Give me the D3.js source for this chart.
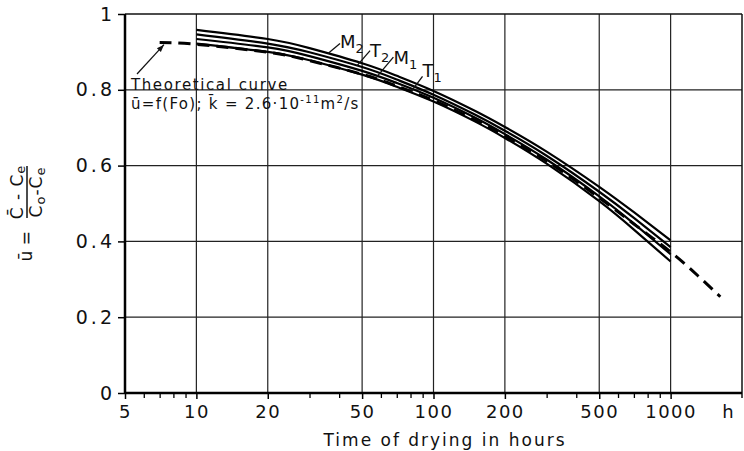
<!DOCTYPE html>
<html>
<head>
<meta charset="utf-8">
<script src="https://cdn.jsdelivr.net/npm/d3@7"></script>
<style>
body { margin: 0; background: #fff; }
svg { display: block; font-family: "DejaVu Sans", sans-serif; }
</style>
</head>
<body>
<div id="chart"></div>
<script>
// measured curves (hours -> mean relative moisture u)
var times = [10, 20, 30, 50, 70, 100, 150, 200, 300, 500, 700, 1000];
var uM2 = [0.958, 0.934, 0.910, 0.870, 0.837, 0.797, 0.744, 0.702, 0.637, 0.544, 0.477, 0.403];
var uT2 = [0.946, 0.922, 0.899, 0.860, 0.827, 0.787, 0.734, 0.692, 0.626, 0.531, 0.462, 0.385];
var uM1 = [0.934, 0.912, 0.889, 0.850, 0.818, 0.779, 0.726, 0.683, 0.616, 0.519, 0.447, 0.366];
var uT1 = [0.922, 0.900, 0.878, 0.840, 0.808, 0.769, 0.716, 0.673, 0.605, 0.506, 0.431, 0.347];

// theoretical curve u = f(Fo)
var theoryTimes = [7, 10, 20, 30, 50, 70, 100, 150, 200, 300, 500, 700, 1000, 1300, 1620];
var uTheory = [0.925, 0.920, 0.899, 0.877, 0.841, 0.810, 0.772, 0.720, 0.678, 0.612, 0.515, 0.446, 0.372, 0.310, 0.254];

var xTicks = [5, 10, 20, 50, 100, 200, 500, 1000];
var xMinorTicks = [6, 7, 8, 9, 30, 40, 60, 70, 80, 90, 300, 400, 600, 700, 800, 900];
var yTicks = [0, 0.2, 0.4, 0.6, 0.8, 1];

var series = [
    { name: "M", sub: "2", values: uM2, at: 35.9 },
    { name: "T", sub: "2", values: uT2, at: 47.6 },
    { name: "M", sub: "1", values: uM1, at: 58 },
    { name: "T", sub: "1", values: uT1, at: 80 }
];

var width = 744, height = 451;

var svg = d3.select("#chart")
    .append("svg")
    .attr("width", width)
    .attr("height", height);

var x = d3.scaleLog().domain([5, 2000]).range([125, 742]);
var y = d3.scaleLinear().domain([0, 1]).range([393, 14]);

// grid
svg.append("g")
    .selectAll("line")
    .data(xTicks.filter(d => d > 5))
    .enter()
    .append("line")
    .attr("x1", d => x(d)).attr("x2", d => x(d))
    .attr("y1", y(0)).attr("y2", y(1))
    .attr("stroke", "#222").attr("stroke-width", 1.2);

svg.append("g")
    .selectAll("line")
    .data(yTicks.filter(d => d > 0 && d < 1))
    .enter()
    .append("line")
    .attr("x1", x(5)).attr("x2", x(2000))
    .attr("y1", d => y(d)).attr("y2", d => y(d))
    .attr("stroke", "#222").attr("stroke-width", 1.2);

// frame
svg.append("line").attr("x1", x(5)).attr("x2", x(2000)).attr("y1", y(1)).attr("y2", y(1))
    .attr("stroke", "#111").attr("stroke-width", 1.5);
svg.append("line").attr("x1", x(2000)).attr("x2", x(2000)).attr("y1", y(1)).attr("y2", y(0) + 5)
    .attr("stroke", "#111").attr("stroke-width", 1.5);

// axes
var leftAxis = d3.axisLeft(y)
    .tickValues(yTicks)
    .tickSize(7)
    .tickPadding(3)
    .tickFormat(d => (d === 0 || d === 1) ? String(d) : d.toFixed(1));

var yAxisG = svg.append("g")
    .attr("transform", `translate(${x(5)}, 0)`)
    .call(leftAxis);
yAxisG.select(".domain").attr("stroke-width", 2.5).attr("d", `M0,${y(1)}V${y(0)}`);
yAxisG.selectAll(".tick line").attr("stroke-width", 1.5);
yAxisG.selectAll("text")
    .attr("font-size", 19)
    .attr("font-family", "DejaVu Sans")
    .attr("letter-spacing", 3)
    .attr("fill", "#111");

var bottomAxis = d3.axisBottom(x)
    .tickValues(xTicks)
    .tickSize(6)
    .tickPadding(6)
    .tickFormat(d3.format("d"));

var xAxisG = svg.append("g")
    .attr("transform", `translate(0, ${y(0)})`)
    .call(bottomAxis);
xAxisG.select(".domain").attr("stroke-width", 2.5).attr("d", `M${x(5)},0H${x(2000)}`);
xAxisG.selectAll(".tick line").attr("stroke-width", 1.5);
xAxisG.selectAll("text")
    .attr("font-size", 18)
    .attr("font-family", "DejaVu Sans")
    .attr("letter-spacing", 1.5)
    .attr("fill", "#111");

var minorAxis = d3.axisBottom(x)
    .tickValues(xMinorTicks)
    .tickSize(5)
    .tickFormat("");
var minorG = svg.append("g")
    .attr("transform", `translate(0, ${y(0)})`)
    .call(minorAxis);
minorG.select(".domain").remove();
minorG.selectAll(".tick line").attr("stroke-width", 1.3);

svg.append("text")
    .attr("x", 728).attr("y", 418)
    .attr("font-size", 18)
    .attr("text-anchor", "middle")
    .attr("fill", "#111")
    .text("h");

svg.append("text")
    .attr("x", 445).attr("y", 446)
    .attr("font-size", 17)
    .attr("letter-spacing", 2)
    .attr("text-anchor", "middle")
    .attr("fill", "#111")
    .text("Time of drying in hours");

// y title: u = (C - Ce)/(Co - Ce)
var yt = svg.append("g")
    .attr("transform", "translate(27, 212) rotate(-90)")
    .attr("font-size", 17)
    .attr("fill", "#111");
yt.append("line").attr("x1", -6).attr("x2", 46).attr("y1", 0).attr("y2", 0)
    .attr("stroke", "#111").attr("stroke-width", 1.5);
var num = yt.append("text").attr("x", 20).attr("y", -4).attr("text-anchor", "middle").attr("letter-spacing", 1);
num.append("tspan").text("C\u0304 - C");
num.append("tspan").attr("font-size", 13).attr("dy", 2).text("e");
var den = yt.append("text").attr("x", 20).attr("y", 15).attr("text-anchor", "middle").attr("letter-spacing", 1);
den.append("tspan").text("C");
den.append("tspan").attr("font-size", 13).attr("dy", 3).text("o");
den.append("tspan").attr("dy", -3).text("-C");
den.append("tspan").attr("font-size", 13).attr("dy", 3).text("e");
yt.append("text").attr("x", -19).attr("y", 5).attr("text-anchor", "end")
    .text("\u016B =");

// curves
var line = d3.line()
    .x(d => x(d[0]))
    .y(d => y(d[1]))
    .curve(d3.curveNatural);

var curvesGroup = svg.append("g");
series.forEach(function(s) {
    curvesGroup.append("path")
        .datum(times.map((t, i) => [t, s.values[i]]))
        .attr("d", line)
        .attr("fill", "none")
        .attr("stroke", "#000")
        .attr("stroke-width", 2.2);
});

svg.append("path")
    .datum(theoryTimes.map((t, i) => [t, uTheory[i]]))
    .attr("d", line)
    .attr("fill", "none")
    .attr("stroke", "#000")
    .attr("stroke-width", 3)
    .attr("stroke-dasharray", "12,7");

// curve labels with leaders
function uAt(ts, us, t) {
    for (var i = 0; i < ts.length - 1; i++) {
        if (t >= ts[i] && t <= ts[i + 1]) {
            var f = Math.log(t / ts[i]) / Math.log(ts[i + 1] / ts[i]);
            return us[i] + f * (us[i + 1] - us[i]);
        }
    }
    return us[us.length - 1];
}

// [leader dx, leader dy, text baseline offset]
var labelOffsets = [[12, -10, 5], [13, -15, 6], [16, -19, 7], [12, -16, 1]];
series.forEach(function(s, i) {
    var px = x(s.at), py = y(uAt(times, s.values, s.at));
    var lx = px + labelOffsets[i][0], ly = py + labelOffsets[i][1];
    svg.append("line")
        .attr("x1", px).attr("y1", py)
        .attr("x2", lx).attr("y2", ly)
        .attr("stroke", "#111").attr("stroke-width", 1.3);
    var t = svg.append("text")
        .attr("x", lx).attr("y", ly + labelOffsets[i][2])
        .attr("font-size", 18)
        .attr("fill", "#111");
    t.append("tspan").text(s.name);
    t.append("tspan").attr("font-size", 13).attr("dy", 5).text(s.sub);
});

// theoretical curve annotation
svg.append("text")
    .attr("x", 131).attr("y", 90)
    .attr("font-size", 15)
    .attr("letter-spacing", 1.6)
    .attr("fill", "#111")
    .text("Theoretical curve");

var ann2 = svg.append("text")
    .attr("x", 131).attr("y", 109)
    .attr("font-size", 15)
    .attr("letter-spacing", 1.3)
    .attr("fill", "#111");
ann2.append("tspan").text("\u016B=f(Fo); k\u0304 = 2.6\u00B710");
ann2.append("tspan").attr("font-size", 10).attr("dy", -6).text("-11");
ann2.append("tspan").attr("dy", 6).text("m");
ann2.append("tspan").attr("font-size", 10).attr("dy", -6).text("2");
ann2.append("tspan").attr("dy", 6).text("/s");

var tipX = x(7.3), tipY = y(uAt(theoryTimes, uTheory, 7.3)) + 2;
var tailX = 137, tailY = 74;
var ang = Math.atan2(tipY - tailY, tipX - tailX);
svg.append("line")
    .attr("x1", tailX).attr("y1", tailY)
    .attr("x2", tipX).attr("y2", tipY)
    .attr("stroke", "#111").attr("stroke-width", 1.2);
var ah = 8, aw = 0.35;
svg.append("path")
    .attr("d", `M${tipX},${tipY}L${tipX - ah * Math.cos(ang - aw)},${tipY - ah * Math.sin(ang - aw)}L${tipX - ah * Math.cos(ang + aw)},${tipY - ah * Math.sin(ang + aw)}Z`)
    .attr("fill", "#111");
</script>
</body>
</html>
